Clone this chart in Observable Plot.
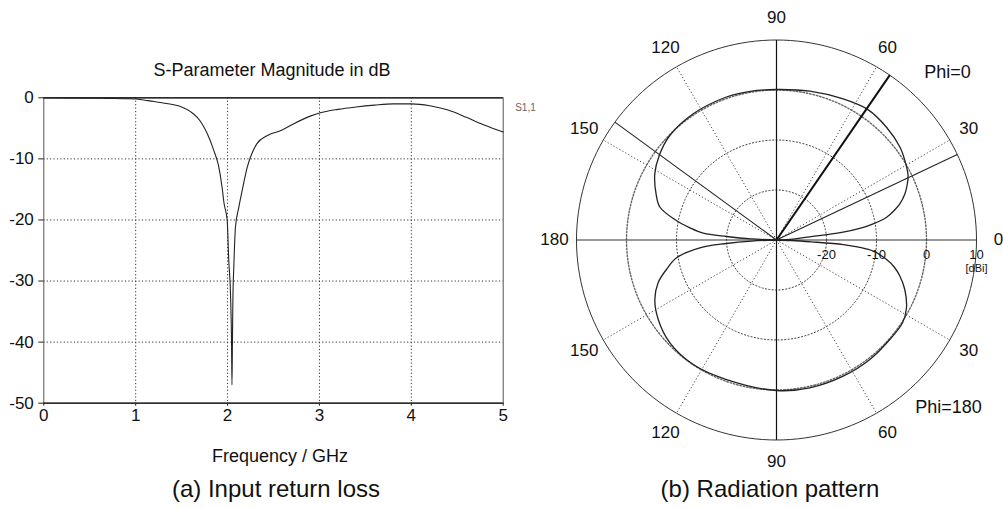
<!DOCTYPE html>
<html><head><meta charset="utf-8">
<script src="https://cdn.jsdelivr.net/npm/d3@7"></script>
<script src="https://cdn.jsdelivr.net/npm/@observablehq/plot@0.6"></script>
<style>
body{margin:0;background:#fff;}
#wrap{position:relative;width:1003px;height:509px;overflow:hidden;font-family:"Liberation Sans",Arial,sans-serif;color:#111;background:#fff;}
.lbl{position:absolute;white-space:nowrap;transform:translate(-50%,-50%);line-height:1;}
#wrap svg{position:absolute;}
</style></head><body><div id="wrap"></div>
<script>
// ---------- (a) S-parameter data ----------
const freqGHz = [0, 0.5, 0.7, 0.9, 1.0, 1.1, 1.2, 1.3, 1.4, 1.5, 1.6, 1.67, 1.72, 1.78, 1.85, 1.9, 1.94, 1.96, 1.996, 2.013, 2.032, 2.043, 2.048, 2.053, 2.058, 2.068, 2.086, 2.123, 2.159, 2.214, 2.25, 2.32, 2.43, 2.58, 2.7, 2.9, 3.0, 3.2, 3.4, 3.6, 3.8, 4.0, 4.2, 4.4, 4.6, 4.8, 5.0];
const s11dB   = [0, -0.05, -0.1, -0.15, -0.2, -0.4, -0.6, -0.85, -1.1, -1.5, -2.3, -3.2, -4.2, -5.9, -8.6, -11, -14.6, -17.1, -20.1, -26.6, -32.1, -39.7, -47, -40, -33, -27.7, -21.2, -17.9, -15.2, -11.4, -9.7, -7.5, -6.2, -5.35, -4.4, -3.0, -2.5, -1.9, -1.5, -1.2, -1.0, -1.0, -1.3, -2.0, -3.2, -4.5, -5.6];
const xTicks = [0, 1, 2, 3, 4, 5];
const yTicks = [0, -10, -20, -30, -40, -50];
const seriesName = "S1,1";

// ---------- (b) Radiation pattern data (theta in deg, gain in dBi) ----------
const thetaPhi0  = [0, 2, 4, 5.5, 6.7, 8, 9.5, 11.7, 14, 16.3, 19.8, 23, 26.1, 31.8, 37, 45.7, 54.8, 64.7, 77.4, 90, 100, 109.3, 123.4, 135.6, 144.2, 151.5, 159, 164.3, 169, 172, 174.7, 176, 177.5, 180];
const gainPhi0   = [-30, -28, -26, -23, -16.6, -13, -10.4, -7.5, -5.8, -4.3, -2.7, -1.6, -0.7, 0.2, 0.9, 1.5, 1.85, 1.2, 0.5, 0.1, 0.2, 0.3, 0.24, -0.13, -1.08, -2.3, -4.2, -5.8, -9.6, -12.5, -15.3, -20, -25, -30];
const thetaPhi180 = [0, 2, 3, 3.9, 5, 6.6, 10, 13, 16.3, 21.1, 27.6, 33.3, 41.3, 52, 63.9, 77.3, 90, 109.7, 123.8, 136, 146.1, 153.9, 160.1, 165, 169.9, 174.2, 176, 177.5, 180];
const gainPhi180  = [-30, -27, -23, -16.6, -13.5, -10.5, -7.7, -5.8, -4.3, -2.5, -0.67, 0.16, 0.16, 0.33, 0.32, 0.3, 0.1, -0.36, -0.04, -0.37, -1.5, -2.9, -4.8, -7.2, -9.7, -14.6, -20, -25, -30];
const ringTicks = [-20, -10, 0, 10];
const dottedRings = [-20, -10, 0];
const angleTicksUpper = [0, 30, 60, 90, 120, 150, 180];
const angleTicksLower = [30, 60, 90, 120, 150];
const dottedSpokes = [30, 60, 120, 150, 210, 240, 300, 330];
const mainLobeDir = 55.5;
const beamEdgeDirs = [25.3, 143.9];
const phiLabels = ["Phi=0", "Phi=180"];

const FONT = '"Liberation Sans", Arial, sans-serif';
const wrap = document.getElementById("wrap");
const fmt = d => String(d); // plain hyphen-minus as in the original

// ---------- Left chart ----------
const sData = freqGHz.map((f, i) => ({f, s: s11dB[i]}));
const W1 = 540, H1 = 430;
const left = Plot.plot({
  width: W1, height: H1,
  marginLeft: 43.3, marginRight: W1 - 502.7, marginTop: 97.3, marginBottom: H1 - 402.7,
  x: {domain: [0, 5]},
  y: {domain: [-50, 0]},
  style: {fontFamily: FONT, fontSize: "17px", color: "#111", background: "none", overflow: "visible"},
  marks: [
    Plot.ruleX(xTicks.slice(1, -1), {stroke: "#333", strokeDasharray: "1.2,2.2", strokeWidth: 1}),
    Plot.ruleY(yTicks.slice(1, -1), {stroke: "#333", strokeDasharray: "1.2,2.2", strokeWidth: 1}),
    Plot.frame({stroke: "#555", strokeWidth: 1}),
    Plot.ruleY([0, -50], {stroke: "#111", strokeWidth: 1.2}),
    Plot.line(sData, {x: "f", y: "s", stroke: "#222", strokeWidth: 1.1, curve: "monotone-x"}),
    Plot.axisX(xTicks, {tickSize: 3, tickPadding: 3, fontSize: 17, label: null, stroke: "#222", tickFormat: fmt}),
    Plot.axisY(yTicks, {tickSize: 5, tickPadding: 5, fontSize: 17, label: null, stroke: "#222", tickFormat: fmt}),
    Plot.text([seriesName], {frameAnchor: "top-right", dx: 12, dy: 6, textAnchor: "start", fontSize: 10, fill: "#666"})
  ]
});
left.style.left = "0px"; left.style.top = "0px";
wrap.appendChild(left);

// ---------- Right chart (polar) ----------
const R0 = -30; // dBi at the centre
const rOf = g => Math.max(g - R0, 0);
const rad = d => d * Math.PI / 180;
const rOuter = rOf(ringTicks[ringTicks.length - 1]);
const rLabel = rOuter * 1.11;
const pat0 = thetaPhi0.map((t, i) => ({x: rOf(gainPhi0[i]) * Math.cos(rad(t)), y: rOf(gainPhi0[i]) * Math.sin(rad(t))}));
const pat180 = thetaPhi180.map((t, i) => ({x: rOf(gainPhi180[i]) * Math.cos(rad(t)), y: -rOf(gainPhi180[i]) * Math.sin(rad(t))}));
const ringPts = ringTicks.flatMap(g => d3.range(0, 361, 2).map(a => ({ring: g, x: rOf(g) * Math.cos(rad(a)), y: rOf(g) * Math.sin(rad(a))})));
const spoke = a => ({x1: 0, y1: 0, x2: rOuter * Math.cos(rad(a)), y2: rOuter * Math.sin(rad(a))});
const angLabels = [
  ...angleTicksUpper.map(a => ({t: String(a), x: rLabel * Math.cos(rad(a)), y: rLabel * Math.sin(rad(a))})),
  ...angleTicksLower.map(a => ({t: String(a), x: rLabel * Math.cos(rad(a)), y: -rLabel * Math.sin(rad(a))}))
];

const W2 = 463, H2 = 480;
const right = Plot.plot({
  width: W2, height: H2,
  margin: 0,
  x: {domain: [-47.2, 45.4], range: [0, W2], axis: null},
  y: {domain: [-48.1, 47.9], range: [H2, 0], axis: null},
  style: {fontFamily: FONT, fontSize: "17px", color: "#111", background: "none", overflow: "visible"},
  marks: [
    Plot.line(ringPts.filter(d => dottedRings.includes(d.ring) && d.ring !== 0), {x: "x", y: "y", z: "ring", stroke: "#444", strokeDasharray: "1.2,2.2", strokeWidth: 1}),
    Plot.line(ringPts.filter(d => d.ring === 0), {x: "x", y: "y", stroke: "#666", strokeDasharray: "1.6,1.8", strokeWidth: 1.4}),
    Plot.line(ringPts.filter(d => d.ring === ringTicks[ringTicks.length - 1]), {x: "x", y: "y", stroke: "#333", strokeWidth: 1}),
    Plot.link(dottedSpokes.map(spoke), {x1: "x1", y1: "y1", x2: "x2", y2: "y2", stroke: "#444", strokeDasharray: "1.2,2.2", strokeWidth: 1}),
    Plot.link([{x1: -rOuter, y1: 0, x2: rOuter, y2: 0}], {x1: "x1", y1: "y1", x2: "x2", y2: "y2", stroke: "#333", strokeWidth: 1}),
    Plot.link([{x1: 0, y1: -rOuter, x2: 0, y2: rOuter}], {x1: "x1", y1: "y1", x2: "x2", y2: "y2", stroke: "#111", strokeWidth: 1.2}),
    Plot.line(pat0, {x: "x", y: "y", stroke: "#222", strokeWidth: 1.3, curve: "catmull-rom"}),
    Plot.line(pat180, {x: "x", y: "y", stroke: "#222", strokeWidth: 1.3, curve: "catmull-rom"}),
    Plot.link([spoke(mainLobeDir)], {x1: "x1", y1: "y1", x2: "x2", y2: "y2", stroke: "#111", strokeWidth: 2}),
    Plot.link(beamEdgeDirs.map(spoke), {x1: "x1", y1: "y1", x2: "x2", y2: "y2", stroke: "#222", strokeWidth: 1.1}),
    Plot.text(angLabels, {x: "x", y: "y", text: "t", fontSize: 17, textAnchor: "middle", lineAnchor: "middle", fill: "#111"}),
    Plot.text(ringTicks, {x: d => rOf(d), y: () => 0, text: fmt, dy: 15, fontSize: 13, textAnchor: "middle", lineAnchor: "middle", fill: "#111"}),
    Plot.text(["[dBi]"], {x: () => rOuter, y: () => 0, dy: 28, fontSize: 11, textAnchor: "middle", lineAnchor: "middle", fill: "#111"}),
    Plot.text([phiLabels[0]], {frameAnchor: "top-right", dx: -56, dy: 72, fontSize: 18, textAnchor: "middle", lineAnchor: "middle", fill: "#111"}),
    Plot.text([phiLabels[1]], {frameAnchor: "top-right", dx: -55, dy: 407, fontSize: 18, textAnchor: "middle", lineAnchor: "middle", fill: "#111"})
  ]
});
right.style.left = "540px"; right.style.top = "0px";
wrap.appendChild(right);

// ---------- HTML titles / captions ----------
function addLabel(text, x, y, size) {
  const d = document.createElement("div");
  d.className = "lbl";
  d.textContent = text;
  d.style.left = x + "px"; d.style.top = y + "px"; d.style.fontSize = size + "px";
  wrap.appendChild(d);
}
addLabel("S-Parameter Magnitude in dB", 272, 70, 18);
addLabel("Frequency / GHz", 280, 456, 18);
addLabel("(a) Input return loss", 276, 489, 24);
addLabel("(b) Radiation pattern", 770, 489, 24);
</script>
</body></html>
